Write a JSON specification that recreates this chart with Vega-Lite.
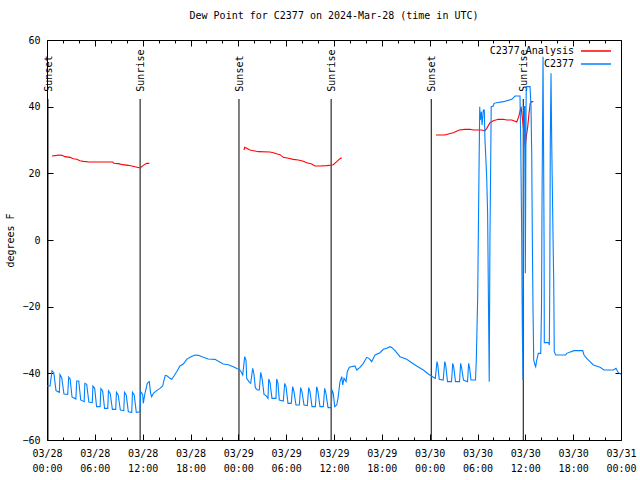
{
"$schema": "https://vega.github.io/schema/vega-lite/v6.json",
"width": 574, "height": 400,
"autosize": {"type": "none"},
"padding": {"left": 47, "top": 40, "right": 19, "bottom": 40},
"background": "white",
"title": {"text": "Dew Point for C2377 on 2024-Mar-28 (time in UTC)", "font": "DejaVu Sans Mono", "fontSize": 10, "fontWeight": "normal", "color": "black", "offset": 14, "anchor": "middle"},
"config": {
  "view": {"stroke": "black", "strokeWidth": 1},
  "axis": {"grid": false, "domain": false, "labelFont": "DejaVu Sans Mono", "labelFontSize": 10, "labelColor": "black", "tickColor": "black", "tickWidth": 1, "titleFont": "DejaVu Sans Mono", "titleFontSize": 10, "titleFontWeight": "normal", "titleColor": "black"}
},
"datasets": {
"sun": [
{"ev": "Sunset", "h": 0.12}, {"ev": "Sunrise", "h": 11.68}, {"ev": "Sunset", "h": 24.08},
{"ev": "Sunrise", "h": 35.64}, {"ev": "Sunset", "h": 48.2}, {"ev": "Sunrise", "h": 59.74}
],
"series": [
{"s":"C2377 Analysis","g":"r1","h":0.63,"v":25.2},{"s":"C2377 Analysis","g":"r1","h":1.22,"v":25.4},{"s":"C2377 Analysis","g":"r1","h":1.47,"v":25.5},{"s":"C2377 Analysis","g":"r1","h":1.88,"v":25.4},{"s":"C2377 Analysis","g":"r1","h":2.26,"v":25},{"s":"C2377 Analysis","g":"r1","h":2.89,"v":24.8},{"s":"C2377 Analysis","g":"r1","h":3.3,"v":24.4},{"s":"C2377 Analysis","g":"r1","h":3.73,"v":24.2},{"s":"C2377 Analysis","g":"r1","h":4.14,"v":23.8},{"s":"C2377 Analysis","g":"r1","h":4.55,"v":23.6},{"s":"C2377 Analysis","g":"r1","h":5.31,"v":23.4},{"s":"C2377 Analysis","g":"r1","h":8.24,"v":23.4},{"s":"C2377 Analysis","g":"r1","h":8.4,"v":23},{"s":"C2377 Analysis","g":"r1","h":8.94,"v":22.9},{"s":"C2377 Analysis","g":"r1","h":9.5,"v":22.6},{"s":"C2377 Analysis","g":"r1","h":10.2,"v":22.4},{"s":"C2377 Analysis","g":"r1","h":11.04,"v":22},{"s":"C2377 Analysis","g":"r1","h":11.67,"v":21.6},{"s":"C2377 Analysis","g":"r1","h":12.08,"v":22.4},{"s":"C2377 Analysis","g":"r1","h":12.51,"v":23},{"s":"C2377 Analysis","g":"r1","h":12.83,"v":23},
{"s":"C2377 Analysis","g":"r2","h":24.71,"v":27},{"s":"C2377 Analysis","g":"r2","h":24.8,"v":27.8},{"s":"C2377 Analysis","g":"r2","h":25.05,"v":27.5},{"s":"C2377 Analysis","g":"r2","h":25.46,"v":27},{"s":"C2377 Analysis","g":"r2","h":25.88,"v":26.8},{"s":"C2377 Analysis","g":"r2","h":26.5,"v":26.5},{"s":"C2377 Analysis","g":"r2","h":27.97,"v":26.4},{"s":"C2377 Analysis","g":"r2","h":28.39,"v":26.2},{"s":"C2377 Analysis","g":"r2","h":28.89,"v":25.8},{"s":"C2377 Analysis","g":"r2","h":29.23,"v":25.6},{"s":"C2377 Analysis","g":"r2","h":29.64,"v":24.8},{"s":"C2377 Analysis","g":"r2","h":30.27,"v":24.5},{"s":"C2377 Analysis","g":"r2","h":30.9,"v":24.2},{"s":"C2377 Analysis","g":"r2","h":31.52,"v":24},{"s":"C2377 Analysis","g":"r2","h":32.15,"v":23.6},{"s":"C2377 Analysis","g":"r2","h":32.58,"v":23.2},{"s":"C2377 Analysis","g":"r2","h":33.2,"v":22.8},{"s":"C2377 Analysis","g":"r2","h":33.62,"v":22.2},{"s":"C2377 Analysis","g":"r2","h":34.24,"v":22.2},{"s":"C2377 Analysis","g":"r2","h":35.09,"v":22.3},{"s":"C2377 Analysis","g":"r2","h":35.71,"v":22.5},{"s":"C2377 Analysis","g":"r2","h":35.91,"v":22.6},{"s":"C2377 Analysis","g":"r2","h":36.34,"v":23.5},{"s":"C2377 Analysis","g":"r2","h":36.75,"v":24.4},{"s":"C2377 Analysis","g":"r2","h":36.97,"v":24.7},
{"s":"C2377 Analysis","g":"r3","h":48.8,"v":31.5},{"s":"C2377 Analysis","g":"r3","h":49.92,"v":31.5},{"s":"C2377 Analysis","g":"r3","h":50.34,"v":31.8},{"s":"C2377 Analysis","g":"r3","h":50.96,"v":32.2},{"s":"C2377 Analysis","g":"r3","h":51.72,"v":33},{"s":"C2377 Analysis","g":"r3","h":52.43,"v":33.2},{"s":"C2377 Analysis","g":"r3","h":53.06,"v":33.2},{"s":"C2377 Analysis","g":"r3","h":53.47,"v":33},{"s":"C2377 Analysis","g":"r3","h":54.53,"v":33},{"s":"C2377 Analysis","g":"r3","h":54.94,"v":32.8},{"s":"C2377 Analysis","g":"r3","h":55.16,"v":33.5},{"s":"C2377 Analysis","g":"r3","h":55.57,"v":35.2},{"s":"C2377 Analysis","g":"r3","h":55.98,"v":35.8},{"s":"C2377 Analysis","g":"r3","h":56.61,"v":36.2},{"s":"C2377 Analysis","g":"r3","h":57.24,"v":36.2},{"s":"C2377 Analysis","g":"r3","h":57.66,"v":36},{"s":"C2377 Analysis","g":"r3","h":58.29,"v":36},{"s":"C2377 Analysis","g":"r3","h":58.71,"v":35.6},{"s":"C2377 Analysis","g":"r3","h":58.92,"v":35.4},{"s":"C2377 Analysis","g":"r3","h":59.17,"v":37},{"s":"C2377 Analysis","g":"r3","h":59.42,"v":39.5},{"s":"C2377 Analysis","g":"r3","h":59.46,"v":40},{"s":"C2377 Analysis","g":"r3","h":59.75,"v":34},{"s":"C2377 Analysis","g":"r3","h":59.87,"v":31},{"s":"C2377 Analysis","g":"r3","h":60.0,"v":28},{"s":"C2377 Analysis","g":"r3","h":60.12,"v":31},{"s":"C2377 Analysis","g":"r3","h":60.3,"v":34},{"s":"C2377 Analysis","g":"r3","h":60.46,"v":38},{"s":"C2377 Analysis","g":"r3","h":60.62,"v":41},{"s":"C2377 Analysis","g":"r3","h":60.8,"v":41.5},{"s":"C2377 Analysis","g":"r3","h":61.0,"v":41.5},
{"s":"C2377","g":"b","h":0,"v":-43.8},{"s":"C2377","g":"b","h":0.38,"v":-43.8},{"s":"C2377","g":"b","h":0.63,"v":-39.2},{"s":"C2377","g":"b","h":0.85,"v":-39.8},{"s":"C2377","g":"b","h":1.13,"v":-45.2},{"s":"C2377","g":"b","h":1.55,"v":-45.7},{"s":"C2377","g":"b","h":1.63,"v":-40.4},{"s":"C2377","g":"b","h":1.85,"v":-41.4},{"s":"C2377","g":"b","h":2.13,"v":-46.2},{"s":"C2377","g":"b","h":2.6,"v":-46.3},{"s":"C2377","g":"b","h":2.72,"v":-41.1},{"s":"C2377","g":"b","h":2.9,"v":-41.7},{"s":"C2377","g":"b","h":3.14,"v":-47.1},{"s":"C2377","g":"b","h":3.62,"v":-47.7},{"s":"C2377","g":"b","h":3.73,"v":-42.3},{"s":"C2377","g":"b","h":3.98,"v":-42.3},{"s":"C2377","g":"b","h":4.23,"v":-48},{"s":"C2377","g":"b","h":4.66,"v":-48.5},{"s":"C2377","g":"b","h":4.75,"v":-43},{"s":"C2377","g":"b","h":4.98,"v":-43.3},{"s":"C2377","g":"b","h":5.25,"v":-48.6},{"s":"C2377","g":"b","h":5.68,"v":-48.8},{"s":"C2377","g":"b","h":5.76,"v":-43.8},{"s":"C2377","g":"b","h":5.98,"v":-44.5},{"s":"C2377","g":"b","h":6.22,"v":-50},{"s":"C2377","g":"b","h":6.66,"v":-50},{"s":"C2377","g":"b","h":6.76,"v":-44.6},{"s":"C2377","g":"b","h":6.98,"v":-45.3},{"s":"C2377","g":"b","h":7.22,"v":-50.5},{"s":"C2377","g":"b","h":7.62,"v":-50.5},{"s":"C2377","g":"b","h":7.71,"v":-45.2},{"s":"C2377","g":"b","h":7.93,"v":-46},{"s":"C2377","g":"b","h":8.2,"v":-50.8},{"s":"C2377","g":"b","h":8.62,"v":-50.8},{"s":"C2377","g":"b","h":8.71,"v":-45.7},{"s":"C2377","g":"b","h":8.93,"v":-46.5},{"s":"C2377","g":"b","h":9.2,"v":-51},{"s":"C2377","g":"b","h":9.63,"v":-51.2},{"s":"C2377","g":"b","h":9.72,"v":-45.7},{"s":"C2377","g":"b","h":9.94,"v":-46.5},{"s":"C2377","g":"b","h":10.2,"v":-51.5},{"s":"C2377","g":"b","h":10.63,"v":-51.7},{"s":"C2377","g":"b","h":10.72,"v":-45.7},{"s":"C2377","g":"b","h":10.94,"v":-46.5},{"s":"C2377","g":"b","h":11.2,"v":-51.7},{"s":"C2377","g":"b","h":11.66,"v":-51.5},{"s":"C2377","g":"b","h":11.75,"v":-45.5},{"s":"C2377","g":"b","h":12.0,"v":-46.3},{"s":"C2377","g":"b","h":12.08,"v":-49},{"s":"C2377","g":"b","h":12.26,"v":-46.3},{"s":"C2377","g":"b","h":12.58,"v":-43},{"s":"C2377","g":"b","h":12.83,"v":-42.5},{"s":"C2377","g":"b","h":13.0,"v":-46},{"s":"C2377","g":"b","h":13.13,"v":-47},{"s":"C2377","g":"b","h":13.33,"v":-46},{"s":"C2377","g":"b","h":13.76,"v":-45.2},{"s":"C2377","g":"b","h":14.17,"v":-44.5},{"s":"C2377","g":"b","h":14.51,"v":-43.8},{"s":"C2377","g":"b","h":14.68,"v":-42},{"s":"C2377","g":"b","h":14.84,"v":-40.6},{"s":"C2377","g":"b","h":15.09,"v":-40.8},{"s":"C2377","g":"b","h":15.42,"v":-41.5},{"s":"C2377","g":"b","h":15.64,"v":-41.8},{"s":"C2377","g":"b","h":15.93,"v":-40.8},{"s":"C2377","g":"b","h":16.27,"v":-39.5},{"s":"C2377","g":"b","h":16.68,"v":-37.8},{"s":"C2377","g":"b","h":17.1,"v":-37.2},{"s":"C2377","g":"b","h":17.52,"v":-35.8},{"s":"C2377","g":"b","h":17.94,"v":-35.2},{"s":"C2377","g":"b","h":18.56,"v":-34.5},{"s":"C2377","g":"b","h":18.98,"v":-34.6},{"s":"C2377","g":"b","h":19.61,"v":-35.2},{"s":"C2377","g":"b","h":20.23,"v":-35.7},{"s":"C2377","g":"b","h":21.07,"v":-35.8},{"s":"C2377","g":"b","h":21.49,"v":-36.4},{"s":"C2377","g":"b","h":22.11,"v":-37.2},{"s":"C2377","g":"b","h":22.74,"v":-37.4},{"s":"C2377","g":"b","h":23.37,"v":-38},{"s":"C2377","g":"b","h":23.87,"v":-38.6},{"s":"C2377","g":"b","h":24.05,"v":-38.7},{"s":"C2377","g":"b","h":24.3,"v":-39.3},{"s":"C2377","g":"b","h":24.55,"v":-40.5},{"s":"C2377","g":"b","h":24.8,"v":-35},{"s":"C2377","g":"b","h":24.96,"v":-36},{"s":"C2377","g":"b","h":25.05,"v":-41.5},{"s":"C2377","g":"b","h":25.38,"v":-42.7},{"s":"C2377","g":"b","h":25.55,"v":-43},{"s":"C2377","g":"b","h":25.8,"v":-38.5},{"s":"C2377","g":"b","h":25.95,"v":-40},{"s":"C2377","g":"b","h":26.13,"v":-44.3},{"s":"C2377","g":"b","h":26.38,"v":-45},{"s":"C2377","g":"b","h":26.63,"v":-45},{"s":"C2377","g":"b","h":26.81,"v":-39.7},{"s":"C2377","g":"b","h":26.98,"v":-41.5},{"s":"C2377","g":"b","h":27.22,"v":-46.3},{"s":"C2377","g":"b","h":27.47,"v":-46.7},{"s":"C2377","g":"b","h":27.72,"v":-47.5},{"s":"C2377","g":"b","h":27.81,"v":-41.7},{"s":"C2377","g":"b","h":27.97,"v":-42.7},{"s":"C2377","g":"b","h":28.22,"v":-47.5},{"s":"C2377","g":"b","h":28.72,"v":-47.5},{"s":"C2377","g":"b","h":28.81,"v":-41.7},{"s":"C2377","g":"b","h":28.97,"v":-43},{"s":"C2377","g":"b","h":29.14,"v":-48},{"s":"C2377","g":"b","h":29.64,"v":-48.3},{"s":"C2377","g":"b","h":29.82,"v":-43},{"s":"C2377","g":"b","h":29.98,"v":-44},{"s":"C2377","g":"b","h":30.23,"v":-49},{"s":"C2377","g":"b","h":30.64,"v":-49},{"s":"C2377","g":"b","h":30.82,"v":-44},{"s":"C2377","g":"b","h":30.98,"v":-45.5},{"s":"C2377","g":"b","h":31.23,"v":-49.5},{"s":"C2377","g":"b","h":31.65,"v":-49.5},{"s":"C2377","g":"b","h":31.82,"v":-44.3},{"s":"C2377","g":"b","h":31.98,"v":-45.5},{"s":"C2377","g":"b","h":32.24,"v":-49.5},{"s":"C2377","g":"b","h":32.65,"v":-49.7},{"s":"C2377","g":"b","h":32.83,"v":-44.3},{"s":"C2377","g":"b","h":32.99,"v":-45.5},{"s":"C2377","g":"b","h":33.24,"v":-50},{"s":"C2377","g":"b","h":33.66,"v":-50},{"s":"C2377","g":"b","h":33.83,"v":-44},{"s":"C2377","g":"b","h":33.99,"v":-45.5},{"s":"C2377","g":"b","h":34.24,"v":-50},{"s":"C2377","g":"b","h":34.66,"v":-50},{"s":"C2377","g":"b","h":34.83,"v":-44.5},{"s":"C2377","g":"b","h":34.99,"v":-46},{"s":"C2377","g":"b","h":35.25,"v":-50.3},{"s":"C2377","g":"b","h":35.66,"v":-50.3},{"s":"C2377","g":"b","h":35.75,"v":-45},{"s":"C2377","g":"b","h":35.91,"v":-46},{"s":"C2377","g":"b","h":36.09,"v":-50},{"s":"C2377","g":"b","h":36.34,"v":-49.5},{"s":"C2377","g":"b","h":36.5,"v":-47.5},{"s":"C2377","g":"b","h":36.75,"v":-42.5},{"s":"C2377","g":"b","h":36.97,"v":-41},{"s":"C2377","g":"b","h":37.09,"v":-43.5},{"s":"C2377","g":"b","h":37.26,"v":-41.5},{"s":"C2377","g":"b","h":37.51,"v":-42.5},{"s":"C2377","g":"b","h":37.67,"v":-39.5},{"s":"C2377","g":"b","h":37.92,"v":-38.2},{"s":"C2377","g":"b","h":38.63,"v":-37.8},{"s":"C2377","g":"b","h":38.85,"v":-39},{"s":"C2377","g":"b","h":39.26,"v":-38.2},{"s":"C2377","g":"b","h":39.68,"v":-37},{"s":"C2377","g":"b","h":40.1,"v":-35.2},{"s":"C2377","g":"b","h":40.39,"v":-35.5},{"s":"C2377","g":"b","h":40.73,"v":-36.5},{"s":"C2377","g":"b","h":41.14,"v":-34.5},{"s":"C2377","g":"b","h":41.77,"v":-33.8},{"s":"C2377","g":"b","h":42.19,"v":-32.8},{"s":"C2377","g":"b","h":42.61,"v":-32.5},{"s":"C2377","g":"b","h":43.03,"v":-32},{"s":"C2377","g":"b","h":43.28,"v":-32.3},{"s":"C2377","g":"b","h":43.65,"v":-33.2},{"s":"C2377","g":"b","h":44.28,"v":-35},{"s":"C2377","g":"b","h":45.12,"v":-35.8},{"s":"C2377","g":"b","h":45.75,"v":-36.8},{"s":"C2377","g":"b","h":46.37,"v":-37.8},{"s":"C2377","g":"b","h":47.2,"v":-39},{"s":"C2377","g":"b","h":47.83,"v":-40.2},{"s":"C2377","g":"b","h":48.46,"v":-41.2},{"s":"C2377","g":"b","h":48.71,"v":-41.5},{"s":"C2377","g":"b","h":48.92,"v":-36.5},{"s":"C2377","g":"b","h":49.02,"v":-37.5},{"s":"C2377","g":"b","h":49.2,"v":-41.8},{"s":"C2377","g":"b","h":49.7,"v":-42},{"s":"C2377","g":"b","h":49.89,"v":-36.5},{"s":"C2377","g":"b","h":50.01,"v":-37.5},{"s":"C2377","g":"b","h":50.24,"v":-42.5},{"s":"C2377","g":"b","h":50.74,"v":-42.5},{"s":"C2377","g":"b","h":50.89,"v":-37},{"s":"C2377","g":"b","h":51.01,"v":-38},{"s":"C2377","g":"b","h":51.24,"v":-42.5},{"s":"C2377","g":"b","h":51.74,"v":-42.5},{"s":"C2377","g":"b","h":51.89,"v":-37},{"s":"C2377","g":"b","h":52.02,"v":-38.5},{"s":"C2377","g":"b","h":52.24,"v":-42},{"s":"C2377","g":"b","h":52.75,"v":-42.5},{"s":"C2377","g":"b","h":52.89,"v":-37},{"s":"C2377","g":"b","h":53.02,"v":-38.5},{"s":"C2377","g":"b","h":53.18,"v":-42},{"s":"C2377","g":"b","h":53.75,"v":-42},{"s":"C2377","g":"b","h":53.85,"v":-36},{"s":"C2377","g":"b","h":54.02,"v":-17.5},{"s":"C2377","g":"b","h":54.19,"v":21},{"s":"C2377","g":"b","h":54.28,"v":40},{"s":"C2377","g":"b","h":54.35,"v":36},{"s":"C2377","g":"b","h":54.48,"v":38.5},{"s":"C2377","g":"b","h":54.57,"v":34.5},{"s":"C2377","g":"b","h":54.73,"v":39},{"s":"C2377","g":"b","h":54.85,"v":39},{"s":"C2377","g":"b","h":54.94,"v":30},{"s":"C2377","g":"b","h":55.15,"v":19},{"s":"C2377","g":"b","h":55.27,"v":8},{"s":"C2377","g":"b","h":55.38,"v":-20},{"s":"C2377","g":"b","h":55.47,"v":-42.5},{"s":"C2377","g":"b","h":55.56,"v":0},{"s":"C2377","g":"b","h":55.64,"v":19},{"s":"C2377","g":"b","h":55.72,"v":40},{"s":"C2377","g":"b","h":55.98,"v":40.2},{"s":"C2377","g":"b","h":56.07,"v":41},{"s":"C2377","g":"b","h":56.41,"v":41.2},{"s":"C2377","g":"b","h":57.24,"v":41.5},{"s":"C2377","g":"b","h":58.29,"v":42.2},{"s":"C2377","g":"b","h":58.71,"v":43.2},{"s":"C2377","g":"b","h":59.33,"v":43.2},{"s":"C2377","g":"b","h":59.42,"v":30},{"s":"C2377","g":"b","h":59.54,"v":2},{"s":"C2377","g":"b","h":59.62,"v":-26},{"s":"C2377","g":"b","h":59.71,"v":-42},{"s":"C2377","g":"b","h":59.78,"v":30},{"s":"C2377","g":"b","h":59.83,"v":40},{"s":"C2377","g":"b","h":59.92,"v":40},{"s":"C2377","g":"b","h":60.0,"v":-10},{"s":"C2377","g":"b","h":60.09,"v":40},{"s":"C2377","g":"b","h":60.12,"v":46},{"s":"C2377","g":"b","h":60.59,"v":46},{"s":"C2377","g":"b","h":60.71,"v":40},{"s":"C2377","g":"b","h":60.8,"v":26},{"s":"C2377","g":"b","h":60.88,"v":0},{"s":"C2377","g":"b","h":60.96,"v":-20},{"s":"C2377","g":"b","h":61.05,"v":-36},{"s":"C2377","g":"b","h":61.21,"v":-37.5},{"s":"C2377","g":"b","h":61.3,"v":-38},{"s":"C2377","g":"b","h":61.43,"v":-36},{"s":"C2377","g":"b","h":61.63,"v":-34},{"s":"C2377","g":"b","h":61.93,"v":-34},{"s":"C2377","g":"b","h":62.03,"v":-20},{"s":"C2377","g":"b","h":62.09,"v":10},{"s":"C2377","g":"b","h":62.22,"v":55},{"s":"C2377","g":"b","h":62.28,"v":30},{"s":"C2377","g":"b","h":62.35,"v":0},{"s":"C2377","g":"b","h":62.38,"v":-30.8},{"s":"C2377","g":"b","h":62.93,"v":-30.8},{"s":"C2377","g":"b","h":63.01,"v":-31.5},{"s":"C2377","g":"b","h":63.07,"v":-12},{"s":"C2377","g":"b","h":63.13,"v":29},{"s":"C2377","g":"b","h":63.22,"v":50},{"s":"C2377","g":"b","h":63.31,"v":29},{"s":"C2377","g":"b","h":63.51,"v":-5},{"s":"C2377","g":"b","h":63.56,"v":-12},{"s":"C2377","g":"b","h":63.63,"v":-33.5},{"s":"C2377","g":"b","h":63.81,"v":-34.5},{"s":"C2377","g":"b","h":65.06,"v":-34.5},{"s":"C2377","g":"b","h":65.19,"v":-34},{"s":"C2377","g":"b","h":66.1,"v":-33.2},{"s":"C2377","g":"b","h":67.2,"v":-33.2},{"s":"C2377","g":"b","h":67.36,"v":-34.5},{"s":"C2377","g":"b","h":67.7,"v":-35.5},{"s":"C2377","g":"b","h":68.11,"v":-36.5},{"s":"C2377","g":"b","h":68.53,"v":-37.5},{"s":"C2377","g":"b","h":69.37,"v":-38.2},{"s":"C2377","g":"b","h":69.87,"v":-39},{"s":"C2377","g":"b","h":71.04,"v":-39},{"s":"C2377","g":"b","h":71.37,"v":-38.5},{"s":"C2377","g":"b","h":71.66,"v":-39.8},{"s":"C2377","g":"b","h":71.96,"v":-40.2},{"s":"C2377","g":"b","h":72.0,"v":-40.2}
]
},
"layer": [
{
  "data": {"name": "sun"},
  "mark": {"type": "rule", "color": "black", "strokeWidth": 1},
  "encoding": {
    "x": {"field": "h", "type": "quantitative", "scale": {"domain": [0, 72], "nice": false, "zero": false},
          "axis": {"orient": "bottom", "values": [2,4,8,10,14,16,20,22,26,28,32,34,38,40,44,46,50,52,56,58,62,64,68,70], "tickSize": -3, "labels": false, "title": null}},
    "y": {"datum": 42.3, "type": "quantitative", "scale": {"domain": [-60, 60], "nice": false},
          "axis": {"orient": "right", "values": [-60,-40,-20,0,20,40,60], "tickSize": -6, "labels": false, "title": null}},
    "y2": {"datum": -60}
  }
},
{
  "data": {"name": "sun"},
  "transform": [{"filter": "datum.ev === 'Sunset'"}],
  "mark": {"type": "text", "angle": 270, "align": "left", "baseline": "middle", "dy": 1, "font": "DejaVu Sans Mono", "fontSize": 10, "color": "black"},
  "encoding": {
    "x": {"field": "h", "type": "quantitative", "scale": {"domain": [0, 72], "nice": false, "zero": false},
          "axis": {"orient": "top", "values": [0,6,12,18,24,30,36,42,48,54,60,66,72], "tickSize": -6, "labels": false, "title": null}},
    "y": {"datum": 44.5, "type": "quantitative", "scale": {"domain": [-60, 60], "nice": false}, "axis": null},
    "text": {"field": "ev"}
  }
},
{
  "data": {"name": "sun"},
  "transform": [{"filter": "datum.ev === 'Sunrise'"}],
  "mark": {"type": "text", "angle": 270, "align": "left", "baseline": "middle", "dy": 1, "font": "DejaVu Sans Mono", "fontSize": 10, "color": "black"},
  "encoding": {
    "x": {"field": "h", "type": "quantitative", "scale": {"domain": [0, 72], "nice": false, "zero": false},
          "axis": {"orient": "top", "values": [2,4,8,10,14,16,20,22,26,28,32,34,38,40,44,46,50,52,56,58,62,64,68,70], "tickSize": -3, "labels": false, "title": null}},
    "y": {"datum": 44.5, "type": "quantitative", "scale": {"domain": [-60, 60], "nice": false}, "axis": null},
    "text": {"field": "ev"}
  }
},
{
  "data": {"name": "series"},
  "mark": {"type": "line", "strokeWidth": 1.1, "interpolate": "linear"},
  "encoding": {
    "x": {"field": "h", "type": "quantitative", "scale": {"domain": [0, 72], "nice": false, "zero": false},
          "axis": {"orient": "bottom", "values": [0,6,12,18,24,30,36,42,48,54,60,66,72], "tickSize": -6, "labelPadding": 14, "labelLineHeight": 15, "labelFlush": false, "labelOverlap": false, "title": null,
                   "labelExpr": "['03/' + (28 + floor(datum.value / 24)), (datum.value % 24 < 10 ? '0' : '') + (datum.value % 24) + ':00']"}},
    "y": {"field": "v", "type": "quantitative", "scale": {"domain": [-60, 60], "nice": false},
          "axis": {"orient": "left", "values": [-60,-40,-20,0,20,40,60], "tickSize": -6, "labelPadding": 13, "title": "degrees F", "titlePadding": 6}},
    "color": {"field": "s", "type": "nominal", "scale": {"domain": ["C2377 Analysis", "C2377"], "range": ["#ff0000", "#0080ff"]},
              "legend": {"orient": "none", "legendX": 543, "legendY": 5, "title": null, "symbolType": "M-3,0L3,0", "symbolSize": 100, "symbolStrokeWidth": 1.5,
                         "labelAlign": "right", "labelOffset": -28, "labelFont": "DejaVu Sans Mono", "labelFontSize": 10, "labelColor": "black", "rowPadding": 2, "padding": 0}},
    "detail": {"field": "g", "type": "nominal"}
  }
}
],
"resolve": {"axis": {"x": "independent", "y": "independent"}}
}
